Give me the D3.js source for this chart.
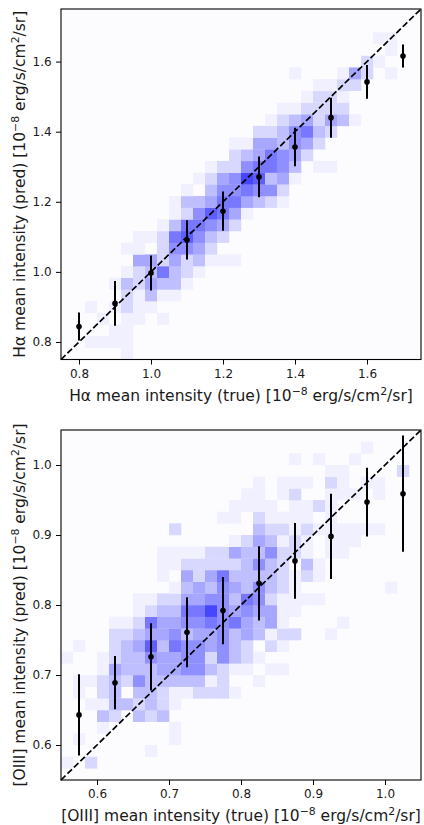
<!DOCTYPE html>
<html><head><meta charset="utf-8">
<script src="https://cdn.jsdelivr.net/npm/d3@7"></script>
<style>
body{margin:0;background:#fff}
svg{display:block}
text{font-family:"DejaVu Sans",sans-serif;fill:#1a1a1a}
</style>
</head><body>
<svg id="c" width="424" height="825"></svg>
<script>
// ---------- Hα panel data ----------
const haRange = [0.75, 1.75];
const haTicks = [0.8, 1.0, 1.2, 1.4, 1.6];
// 2D histogram intensity levels (0-8), row 0 = lowest predicted bin, 30 x 30 bins
const haGrid = [
"00000 10000 00000 00000 00000 00000",
"00111 10000 00000 00000 00000 00000",
"00001 10000 00000 00000 00000 00000",
"00010 11010 00000 00000 00000 00000",
"00101 21100 00000 00000 00000 00000",
"00000 21311 00000 00000 00000 00000",
"00001 32433 10000 00000 00000 00000",
"00000 12363 21000 00000 00000 00000",
"00000 04424 23111 00000 00000 00000",
"00000 11025 54200 00000 00000 00000",
"00000 01126 75320 00000 00000 00000",
"00000 00013 66542 00000 00000 00000",
"00000 00001 25764 10000 00000 00000",
"00000 00001 33466 43210 00000 00000",
"00000 00000 10355 65520 00000 00000",
"00000 00000 01245 87341 00000 00000",
"00000 00000 00122 56653 01100 00000",
"00000 00000 00002 34654 20000 00000",
"00000 00000 00001 14435 42000 00000",
"00000 00000 00000 02235 63200 00000",
"00000 00000 00000 00123 42431 00000",
"00000 00000 00000 00011 22220 00000",
"00000 00000 00000 00000 12210 00000",
"00000 00000 00000 00000 01122 00000",
"00000 00000 00000 00001 00014 20100",
"00000 00000 00000 00000 00000 21000",
"00000 00000 00000 00000 00000 00100",
"00000 00000 00000 00000 00000 01100",
"00000 00000 00000 00000 00000 00000",
"00000 00000 00000 00000 00000 00000"
];
const haX   = [0.8, 0.9, 1.0, 1.1, 1.2, 1.3, 1.4, 1.5, 1.6, 1.7];
const haY   = [0.844, 0.910, 0.997, 1.091, 1.173, 1.271, 1.356, 1.440, 1.542, 1.616];
const haErr = [0.040, 0.064, 0.050, 0.056, 0.056, 0.058, 0.055, 0.057, 0.048, 0.033];

// ---------- [OIII] panel data ----------
const o3Range = [0.55, 1.05];
const o3Ticks = [0.6, 0.7, 0.8, 0.9, 1.0];
const o3Grid = [
"00000 00000 00000 00000 00000 00000",
"10200 00000 00000 00000 00000 00000",
"00000 00100 00000 00000 00000 00000",
"01000 00001 00000 00000 00000 00000",
"00010 00001 00000 00000 00000 00000",
"00032 03230 00000 00000 00000 00000",
"00113 32321 00000 00000 00000 00000",
"01023 03321 12221 00000 00000 00000",
"01123 25333 33120 01000 00000 00000",
"00014 33344 55321 10110 00000 00000",
"10012 33544 55253 21000 00000 00000",
"01002 34736 55453 20210 00000 00000",
"00002 23445 34453 43122 00100 00000",
"00001 12644 55656 43410 00010 00000",
"00000 01233 66854 54411 00000 00000",
"00000 01122 44553 65211 11000 00000",
"00000 00001 34354 35321 00000 00100",
"00000 00010 42463 33321 21000 00000",
"00000 00011 22222 35320 31000 00000",
"00000 00011 11224 33522 10110 00000",
"00000 00000 00001 24312 10111 00000",
"00000 00002 00000 03221 21111 11000",
"00000 00000 00011 02111 10100 00000",
"00000 00000 00001 11101 12100 00000",
"00000 00000 00000 11012 00111 01000",
"00000 00000 00000 01011 10210 11000",
"00000 00000 00000 00000 00110 00020",
"00000 00000 00000 00001 01001 00000",
"00000 00000 00000 00000 00000 10000",
"00000 00000 00000 00000 00000 00000"
];
const o3X   = [0.575, 0.625, 0.675, 0.725, 0.775, 0.825, 0.875, 0.925, 0.975, 1.025];
const o3Y   = [0.643, 0.689, 0.726, 0.761, 0.792, 0.831, 0.863, 0.898, 0.947, 0.959];
const o3Err = [0.058, 0.038, 0.048, 0.050, 0.048, 0.053, 0.054, 0.061, 0.049, 0.083];

const labels = {
  ha: {x: "Hα mean intensity (true) [10", y: "Hα mean intensity (pred) [10"},
  o3: {x: "[OIII] mean intensity (true) [10", y: "[OIII] mean intensity (pred) [10"}
};

const svg = d3.select("#c");
const color = d3.scaleLinear().domain([1, 8]).range(["#f0f0ff", "#4646ff"]);

function addLabel(t, lead) {
  t.append("tspan").text(lead);
  t.append("tspan").attr("dy", -6).attr("font-size", "70%").text("−8");
  t.append("tspan").attr("dy", 6).text(" erg/s/cm");
  t.append("tspan").attr("dy", -6).attr("font-size", "70%").text("2");
  t.append("tspan").attr("dy", 6).text("/sr]");
}

function panel(box, range, ticks, grid, px, py, pe, lab) {
  const x = d3.scaleLinear().domain(range).range([box.l, box.r]);
  const y = d3.scaleLinear().domain(range).range([box.b, box.t]);
  const g = svg.append("g");
  g.append("rect").attr("x", box.l).attr("y", box.t)
    .attr("width", box.r - box.l).attr("height", box.b - box.t).attr("fill", "#fcfcff");
  const rows = grid.map(s => s.replace(/ /g, "").split("").map(Number));
  const n = rows.length;
  const w = (range[1] - range[0]) / n;
  const cells = [];
  rows.forEach((row, j) => row.forEach((v, i) => { if (v > 0) cells.push({i, j, v}); }));
  g.append("g").selectAll("rect").data(cells).join("rect")
    .attr("x", d => x(range[0] + d.i * w))
    .attr("y", d => y(range[0] + (d.j + 1) * w))
    .attr("width", d => x(range[0] + (d.i + 1) * w) - x(range[0] + d.i * w) + 0.3)
    .attr("height", d => y(range[0] + d.j * w) - y(range[0] + (d.j + 1) * w) + 0.3)
    .attr("fill", d => color(d.v));
  // error bars
  const pts = px.map((v, k) => ({x: v, y: py[k], e: pe[k]}));
  g.append("g").selectAll("line").data(pts).join("line")
    .attr("x1", d => x(d.x)).attr("x2", d => x(d.x))
    .attr("y1", d => y(d.y - d.e)).attr("y2", d => y(d.y + d.e))
    .attr("stroke", "#000").attr("stroke-width", 2);
  g.append("g").selectAll("circle").data(pts).join("circle")
    .attr("cx", d => x(d.x)).attr("cy", d => y(d.y)).attr("r", 2.8).attr("fill", "#000");
  // 1:1 line
  g.append("line").attr("x1", x(range[0])).attr("y1", y(range[0]))
    .attr("x2", x(range[1])).attr("y2", y(range[1]))
    .attr("stroke", "#000").attr("stroke-width", 1.7).attr("stroke-dasharray", "6.3,2.7");
  // axes
  const fmt = d3.format(".1f");
  const ax = g.append("g").attr("transform", `translate(0,${box.b})`)
    .call(d3.axisBottom(x).tickValues(ticks).tickFormat(fmt).tickSize(5).tickPadding(4.5).tickSizeOuter(0));
  const ay = g.append("g").attr("transform", `translate(${box.l},0)`)
    .call(d3.axisLeft(y).tickValues(ticks).tickFormat(fmt).tickSize(5).tickPadding(4.3).tickSizeOuter(0));
  [ax, ay].forEach(a => {
    a.select(".domain").remove();
    a.selectAll("line").attr("stroke", "#000").attr("stroke-width", 1);
    a.selectAll("text").attr("font-size", 12).attr("font-family", "DejaVu Sans").attr("fill", "#1a1a1a");
  });
  g.append("rect").attr("x", box.l).attr("y", box.t)
    .attr("width", box.r - box.l).attr("height", box.b - box.t)
    .attr("fill", "none").attr("stroke", "#000").attr("stroke-width", 1.1);
  // labels
  const tx = g.append("text").attr("x", (box.l + box.r) / 2).attr("y", box.b + 41)
    .attr("text-anchor", "middle").attr("font-size", 15.5);
  addLabel(tx, lab.x);
  const ty = g.append("text").attr("transform", `translate(25,${(box.t + box.b) / 2}) rotate(-90)`)
    .attr("text-anchor", "middle").attr("font-size", 15.5);
  addLabel(ty, lab.y);
}

panel({l: 61, r: 421, t: 9, b: 359.5}, haRange, haTicks, haGrid, haX, haY, haErr, labels.ha);
panel({l: 61, r: 421, t: 430, b: 780}, o3Range, o3Ticks, o3Grid, o3X, o3Y, o3Err, labels.o3);
</script>
</body></html>
